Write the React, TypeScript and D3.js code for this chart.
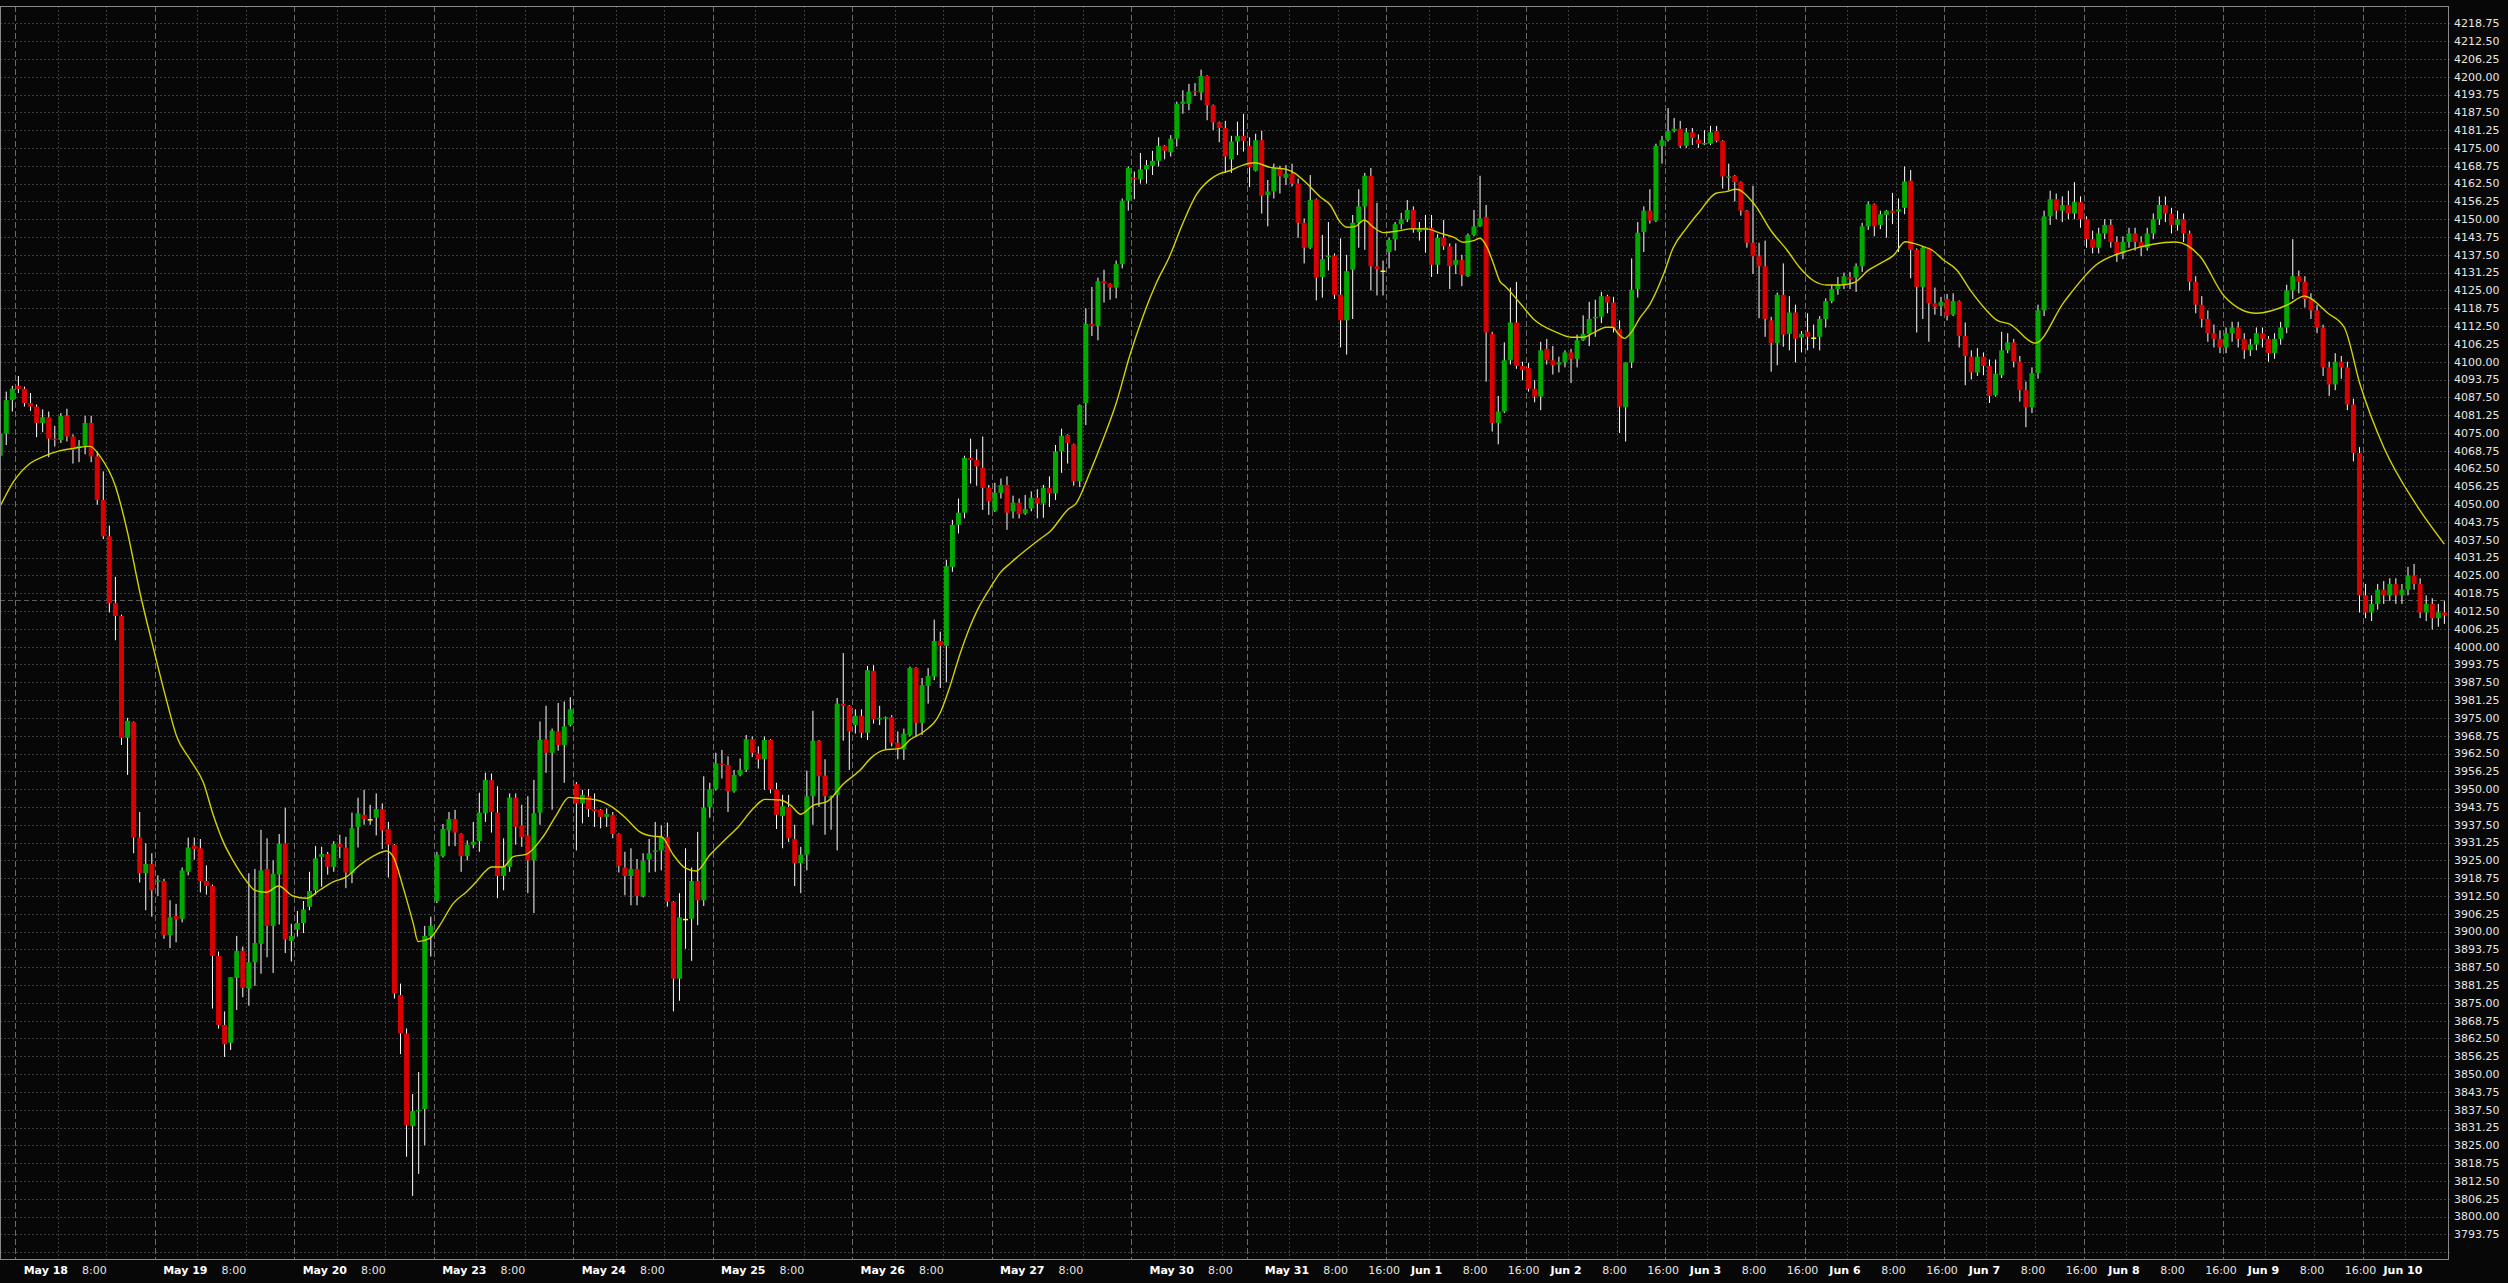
import React from "react"
import * as d3 from "d3"

// hourly bars: [open, high, low, close]
type Bar = [number, number, number, number]

const may17: Bar[] = [
  [4067, 4076, 4065, 4074.75], [4074.75, 4089.5, 4070.75, 4086.5], [4086.5, 4091.5, 4082.5, 4090.5],
]
const may18: Bar[] = [
  [4091.5, 4095, 4089, 4090.5], [4090.5, 4091.25, 4084.25, 4085.5], [4085.5, 4089, 4082.75, 4084.25],
  [4084.25, 4085, 4073.5, 4078.5], [4078.5, 4083.25, 4075.25, 4080.5], [4080.5, 4082.5, 4066.5, 4073],
  [4073, 4077.5, 4070.25, 4072.5], [4072.5, 4082, 4071.5, 4081], [4081, 4083.5, 4072, 4073.75],
  [4073.75, 4074.5, 4064.25, 4069], [4069.75, 4072.5, 4064.75, 4070.5], [4070.5, 4081, 4067.5, 4078.5],
  [4078.5, 4081, 4064.75, 4066.75], [4066.75, 4068.5, 4049.75, 4051.5], [4051.5, 4061.5, 4037.75, 4038.75],
  [4038.75, 4042.5, 4012, 4015.25], [4015.25, 4024.5, 4002.25, 4010.75], [4010.75, 4011.25, 3965.5, 3968],
  [3968, 3975, 3955, 3974], [3973.5, 3973.75, 3927.5, 3933], [3933, 3942, 3917.25, 3920.5],
  [3920.5, 3931, 3907.5, 3923.75], [3923.75, 3927.5, 3905.25, 3914.5],
]
const may19: Bar[] = [
  [3917.5, 3919.75, 3912.5, 3918], [3917.75, 3918.5, 3897.5, 3898.75], [3898.75, 3911, 3894.25, 3905],
  [3905.5, 3909.75, 3896.25, 3904.25], [3904.5, 3922.5, 3903.25, 3921.5], [3921, 3933, 3919.75, 3929.5],
  [3930.25, 3933, 3925.25, 3929], [3929.25, 3932.5, 3913.75, 3917.75], [3917.75, 3923.25, 3913, 3916],
  [3916, 3916.5, 3873, 3891.5], [3891.5, 3893, 3866, 3867.25], [3867.25, 3872, 3856, 3860.5],
  [3861, 3884, 3858.5, 3884], [3883.75, 3898.5, 3872.5, 3893.25], [3893.25, 3894.75, 3877, 3880.25],
  [3880, 3920.5, 3874, 3889.25], [3889.25, 3922, 3881, 3896], [3895.75, 3935.75, 3885.25, 3921.5],
  [3922, 3932.75, 3891, 3902], [3902, 3925, 3885.5, 3920.25], [3920, 3934.25, 3902.5, 3930.75],
  [3931, 3943.5, 3892.5, 3897.25], [3896.75, 3902.75, 3889.5, 3898.5],
]
const may20: Bar[] = [
  [3900.75, 3907.25, 3898.25, 3903], [3903, 3910.75, 3899.5, 3907.75], [3908.75, 3921, 3907.5, 3914.25],
  [3914.5, 3930, 3913, 3925.75], [3926.25, 3929.75, 3915.75, 3927.25], [3927.25, 3928, 3920, 3922.75],
  [3922.75, 3931.75, 3921, 3930.75], [3930.75, 3934, 3925.75, 3929.75], [3929.5, 3933.25, 3915.25, 3920.75],
  [3920.5, 3941.75, 3917, 3936.25], [3936.75, 3947, 3929.5, 3941.5], [3941, 3949.75, 3937.5, 3939.5],
  [3939.5, 3944.5, 3937.5, 3939.5], [3940, 3948.5, 3933.75, 3943], [3943, 3945, 3929, 3935.5],
  [3936, 3938.5, 3919, 3930.5], [3930.5, 3930.75, 3876.5, 3878.25], [3877.75, 3881.75, 3857, 3864.25],
  [3864.25, 3866, 3821, 3832], [3831.75, 3843, 3807.25, 3837], [3837, 3850.75, 3815, 3837.5],
  [3837.75, 3902, 3825, 3898.5], [3898.5, 3905.25, 3891.25, 3902],
]
const may23: Bar[] = [
  [3910.75, 3928, 3910, 3927], [3926.5, 3937.75, 3926, 3936], [3935.5, 3942, 3930, 3939.5],
  [3939.5, 3942.75, 3930, 3934.75], [3934.25, 3934.5, 3921, 3926.5], [3926.5, 3932, 3925, 3930.5],
  [3930.5, 3938.5, 3929.25, 3931.5], [3931.75, 3948.75, 3928, 3941.75], [3941.5, 3955.75, 3938.5, 3953.25],
  [3953.25, 3955.5, 3934.75, 3942], [3941.75, 3951, 3911.75, 3919.5], [3919.5, 3932.75, 3914.5, 3922.75],
  [3922.75, 3948.5, 3921, 3947], [3947, 3948.5, 3930.5, 3936.75], [3937.25, 3944.5, 3929.75, 3933.25],
  [3933.75, 3947.5, 3913.5, 3925], [3925, 3953.25, 3906.5, 3941.5], [3941.75, 3973.75, 3937.5, 3967.25],
  [3967.5, 3979.25, 3955.75, 3962.75], [3962.75, 3971.25, 3942.75, 3970.5], [3970.25, 3980.25, 3963.5, 3965.5],
  [3965.5, 3980.75, 3952.25, 3972], [3972.5, 3982.25, 3972, 3978],
]
const may24: Bar[] = [
  [3951.75, 3952.5, 3928.5, 3945], [3945, 3949.75, 3938, 3948], [3947.5, 3950, 3940.25, 3943],
  [3943, 3948.5, 3936.75, 3942.25], [3942.75, 3943, 3936.25, 3940.25], [3940.25, 3943.25, 3936.75, 3941.25],
  [3941, 3942, 3932.75, 3934.25], [3934.25, 3934.5, 3920.75, 3923], [3922.5, 3928, 3912.75, 3919.5],
  [3919.5, 3929.25, 3909.25, 3922], [3922, 3925.5, 3909.25, 3912.5], [3912.5, 3927.5, 3912, 3924.75],
  [3925.25, 3932.5, 3920.75, 3927.5], [3928, 3938.5, 3921, 3928.5], [3928.5, 3937.25, 3921.5, 3933.25],
  [3933.25, 3938.25, 3908.75, 3910.5], [3910.5, 3910.75, 3872, 3883.5], [3883.5, 3913.5, 3875.75, 3905],
  [3904.5, 3929.25, 3894, 3904.5], [3904.5, 3922.5, 3889.75, 3917.75], [3917.75, 3935, 3902.25, 3911],
  [3911, 3954.5, 3909, 3943.5], [3943.75, 3952.25, 3940, 3950],
]
const may25: Bar[] = [
  [3950, 3962.75, 3949.5, 3959], [3959, 3963.75, 3953.75, 3958.5], [3958.5, 3961.5, 3942, 3949.25],
  [3949.25, 3956.75, 3948.75, 3955], [3955, 3960.75, 3954.5, 3956.75], [3956.75, 3969, 3956, 3967.5],
  [3967.5, 3968.5, 3961.25, 3962.75], [3962.5, 3965, 3957.25, 3960.5], [3960.5, 3968.5, 3949.75, 3967.25],
  [3967.25, 3967.5, 3948.5, 3950], [3950, 3952.25, 3936, 3941], [3940.5, 3948, 3929.25, 3944],
  [3943.75, 3948, 3931.5, 3932.75], [3932.5, 3937.5, 3916, 3924], [3924, 3929.75, 3913.5, 3927],
  [3927, 3956.5, 3921.5, 3947.5], [3947.5, 3977.5, 3937.5, 3967], [3967, 3967.25, 3943.75, 3954.5],
  [3954.75, 3960.5, 3934, 3947.5], [3947, 3947.75, 3935.75, 3947.5], [3948, 3982, 3928.5, 3980],
  [3980, 3997.75, 3967, 3979.25], [3979.25, 3979.5, 3956.75, 3970.25],
]
const may26: Bar[] = [
  [3972.5, 3978, 3969.5, 3975.75], [3975.75, 3978, 3968, 3969.75], [3969.75, 3993.25, 3967.25, 3991.75],
  [3991.5, 3993.5, 3973, 3974.5], [3974.5, 3979.25, 3972.5, 3975], [3975, 3975.5, 3963.75, 3975.25],
  [3975.25, 3976, 3965, 3966.25], [3966.25, 3970.25, 3960.5, 3964.25], [3964, 3971.25, 3960.25, 3969.5],
  [3969, 3993, 3968.5, 3992.5], [3992.5, 3992.75, 3968.5, 3973.25], [3973.25, 3989, 3969, 3986.5],
  [3986.25, 3992.5, 3980, 3989.75], [3989.5, 4009.5, 3988.25, 4002], [4002, 4005.25, 3985.5, 4000.25],
  [4000.25, 4030.5, 3987.5, 4028.25], [4028, 4044.5, 4026.25, 4042.75], [4042.75, 4052, 4039.75, 4047],
  [4047, 4067, 4045, 4066.25], [4066.25, 4073, 4057.25, 4065.5], [4065.5, 4069.25, 4056.5, 4063.25],
  [4062.75, 4073.75, 4048, 4055.75], [4055.75, 4056.75, 4046.25, 4051],
]
const may27: Bar[] = [
  [4047.75, 4057.5, 4047.25, 4054], [4054, 4059, 4052, 4056.75], [4056.75, 4059.75, 4041, 4047],
  [4047.5, 4053, 4045, 4050.5], [4050.5, 4052, 4045, 4046.5], [4046.75, 4053.25, 4046.25, 4048.25],
  [4048.5, 4054.5, 4047.5, 4052.25], [4052.25, 4055.25, 4045, 4050.25], [4050.25, 4056.75, 4045.25, 4055.75],
  [4055.75, 4059.75, 4049, 4053.75], [4053.75, 4070.75, 4051.5, 4068.5], [4068.5, 4076.5, 4061, 4074],
  [4074.25, 4074.5, 4064.25, 4071.5], [4071, 4071.25, 4056.5, 4058], [4058, 4085, 4056, 4084.75],
  [4085.5, 4118.75, 4077.75, 4113.25], [4113.25, 4126.25, 4109, 4112.5], [4112.5, 4129.5, 4107.5, 4128.25],
  [4128.25, 4132.25, 4120.75, 4127.5], [4127.25, 4127.5, 4121.75, 4126], [4126, 4135.5, 4122.25, 4134.25],
  [4134.25, 4157.25, 4132.75, 4156.5], [4156.5, 4168.5, 4153, 4168],
]
const may30: Bar[] = [
  [4164.5, 4166.75, 4157, 4164], [4164, 4173.25, 4162.5, 4167.5], [4167.5, 4170.75, 4162.5, 4169],
  [4168.75, 4174, 4165.5, 4170.5], [4170.5, 4178.75, 4168.5, 4175.75], [4175.75, 4176, 4171, 4174],
  [4173.5, 4179.5, 4172, 4178.25], [4178.25, 4191.25, 4175.5, 4190.5], [4190.5, 4195.25, 4187, 4191.25],
  [4190.5, 4197.5, 4188.25, 4194.75], [4195, 4197.75, 4193.25, 4194.5], [4194.5, 4202.5, 4191.75, 4200.25],
  [4200.25, 4200.5, 4184.75, 4190], [4190, 4190.25, 4181.25, 4184], [4184, 4184.25, 4177, 4182],
  [4182, 4184.5, 4166.25, 4172], [4171, 4179.25, 4166.25, 4177.25], [4177.25, 4184.25, 4172.5, 4179.25],
  [4179.25, 4187, 4173.75, 4177.5],
]
const may31: Bar[] = [
  [4175.75, 4178.75, 4161.25, 4168.25], [4167, 4180, 4166.75, 4177.75], [4177.75, 4181, 4152, 4158.25],
  [4158.5, 4163.75, 4147.5, 4159.75], [4159.75, 4169.5, 4157.25, 4168], [4168, 4168.75, 4159, 4165],
  [4164.5, 4169, 4162, 4166], [4166, 4169.5, 4161.5, 4162.5], [4162.5, 4164.25, 4143.5, 4148.75],
  [4148.75, 4150.25, 4134.5, 4140], [4140, 4165.5, 4139.5, 4156.75], [4157, 4157.25, 4121.5, 4129.5],
  [4129.75, 4144.5, 4122.5, 4136], [4136.75, 4149, 4132, 4137.25], [4137.25, 4138, 4122, 4123.5],
  [4123.5, 4143.25, 4105, 4114.5], [4114.5, 4137.5, 4102.5, 4131.75], [4132.25, 4151.5, 4115, 4148.75],
  [4148.75, 4160.5, 4140, 4154.5], [4154.5, 4166.25, 4139.25, 4165.25], [4165.25, 4168, 4125, 4133.5],
  [4133.5, 4155.75, 4123.25, 4132.5], [4132, 4135.5, 4123.25, 4132],
]
const jun1: Bar[] = [
  [4138.5, 4143.5, 4132.75, 4142.75], [4143, 4149, 4139, 4148.25], [4148.25, 4152.25, 4146.5, 4150],
  [4150, 4156.75, 4149, 4153.25], [4153.25, 4154.5, 4145.25, 4146.5], [4145.5, 4149, 4142.5, 4146.75],
  [4146.25, 4151.5, 4138.25, 4147], [4147, 4151.5, 4129.75, 4134], [4134, 4144.75, 4130.75, 4143.5],
  [4143.5, 4149.75, 4139.25, 4140.5], [4140.5, 4141.5, 4125.5, 4133.5], [4134, 4141.5, 4130.75, 4135.75],
  [4135.75, 4137.5, 4126.5, 4130.5], [4130, 4145, 4129.75, 4144.5], [4144.5, 4153.25, 4144, 4147.5],
  [4147.5, 4165.25, 4147.25, 4150.25], [4150.75, 4155, 4093, 4110.25], [4109.75, 4110.5, 4075.5, 4078.5],
  [4078.5, 4088, 4071, 4082.5], [4082.5, 4106.75, 4082, 4100.5], [4100.5, 4126, 4099, 4113.75],
  [4113.75, 4128, 4097.5, 4098.5], [4098.5, 4100, 4093.5, 4097],
]
const jun2: Bar[] = [
  [4097.75, 4099.5, 4089.5, 4090.5], [4090.5, 4093.5, 4085.75, 4087.75], [4087.75, 4107, 4083, 4104],
  [4104.5, 4108, 4099, 4100.5], [4100.5, 4105.5, 4095.5, 4098.75], [4099, 4101.75, 4096.25, 4099.75],
  [4099.75, 4104, 4098, 4103.25], [4103.25, 4104.5, 4092.5, 4101], [4101, 4109.5, 4098, 4107.5],
  [4107.5, 4116.25, 4107.25, 4109.75], [4109.75, 4121, 4105.5, 4115], [4115.25, 4121.75, 4108.75, 4115.75],
  [4115.75, 4124.5, 4113.5, 4123], [4123, 4123.5, 4117, 4120.75], [4120.75, 4122.75, 4110.25, 4111.75],
  [4111.5, 4114.5, 4075, 4084.25], [4084, 4099.75, 4072, 4099.75], [4099.75, 4136.25, 4097.75, 4125.25],
  [4125.5, 4149, 4122.5, 4145.25], [4145.5, 4154.5, 4138.5, 4153], [4153, 4160.5, 4148.5, 4149.5],
  [4149.5, 4176.5, 4149, 4175.75], [4175.75, 4179.25, 4169.5, 4177.75],
]
const jun3: Bar[] = [
  [4177.75, 4189, 4177.25, 4181], [4181, 4185.5, 4180.5, 4181.75], [4181.75, 4184.5, 4175, 4175.75],
  [4175.75, 4182, 4175, 4180.5], [4180.5, 4182, 4176, 4178.5], [4178, 4179.75, 4175, 4176.5],
  [4176.25, 4181.25, 4176, 4176.75], [4176.5, 4182.75, 4176, 4180.5], [4181, 4182.75, 4177, 4177.5],
  [4177.5, 4177.75, 4160.75, 4165], [4164.5, 4169.5, 4160.25, 4165], [4165.25, 4165.5, 4156.25, 4163],
  [4163, 4163.25, 4151.25, 4153], [4153, 4153.25, 4140, 4141.75], [4141.75, 4161.75, 4130.75, 4137],
  [4137, 4141.75, 4115.25, 4133.5], [4133.5, 4142.5, 4108.75, 4115], [4114.5, 4115.75, 4096.5, 4106.5],
  [4106.5, 4124.25, 4098.75, 4123.5], [4123.5, 4134.5, 4105.25, 4109.5], [4109.75, 4123, 4104, 4117.25],
  [4117.25, 4120, 4099.75, 4108], [4108.5, 4110.75, 4103.25, 4109.75],
]
const jun6: Bar[] = [
  [4110.5, 4117, 4104, 4108.75], [4108.5, 4113, 4104.75, 4108.5], [4108.75, 4116, 4104, 4115],
  [4115, 4122.25, 4112, 4121.25], [4121.25, 4127, 4120.5, 4125.5], [4125.5, 4129.75, 4123.5, 4127.25],
  [4127.25, 4131.25, 4125.5, 4130], [4129.75, 4131.5, 4125.5, 4129], [4129.5, 4134.5, 4124.5, 4133.5],
  [4133.5, 4148.75, 4131.5, 4147.5], [4147.5, 4156.25, 4146.25, 4155.25], [4155.25, 4155.5, 4144, 4147.5],
  [4148, 4153, 4146.5, 4151.75], [4151.5, 4153.25, 4143.5, 4153], [4153, 4159.25, 4148.25, 4152.25],
  [4152.75, 4157.25, 4138.5, 4153.5], [4154, 4168.5, 4151.75, 4163.25], [4163.5, 4167.25, 4129.25, 4139.25],
  [4139.25, 4139.75, 4110.25, 4126.25], [4126.25, 4140.5, 4115, 4140], [4139.75, 4140, 4107, 4120.5],
  [4120.5, 4126, 4116.5, 4119.25], [4119.5, 4122.75, 4116, 4121],
]
const jun7: Bar[] = [
  [4122, 4123.75, 4114.5, 4116], [4116.5, 4124, 4116, 4121.25], [4121.25, 4121.5, 4105, 4109],
  [4109, 4113.75, 4091.75, 4102], [4101.75, 4104, 4093.75, 4096.25], [4096.25, 4104.75, 4095, 4101.75],
  [4101.75, 4103.25, 4095.25, 4098.5], [4098.5, 4100.75, 4085.5, 4088], [4088.25, 4100.75, 4087.75, 4095.75],
  [4095.25, 4110.5, 4094.25, 4104], [4104, 4110, 4103, 4106.75], [4106.75, 4108, 4098, 4100],
  [4100, 4102, 4086, 4090], [4090, 4093, 4077, 4084], [4084, 4098, 4082, 4096],
  [4096, 4120, 4094, 4118], [4118, 4153, 4116, 4151], [4151, 4160, 4148, 4157],
  [4157, 4159, 4150, 4153], [4153, 4158, 4149, 4155], [4155, 4160, 4150, 4152],
  [4152, 4163, 4150, 4156], [4156, 4158, 4147, 4150],
]
const jun8: Bar[] = [
  [4150, 4151, 4140, 4143], [4143, 4146, 4138, 4140], [4140, 4147, 4138, 4145],
  [4145, 4150, 4143, 4148], [4148, 4150, 4140, 4142], [4142, 4144, 4135, 4138],
  [4138, 4144, 4136, 4142], [4142, 4147, 4140, 4145], [4145, 4147, 4139, 4142],
  [4142, 4144, 4137, 4140], [4140, 4147, 4139, 4145], [4145, 4152, 4143, 4150],
  [4150, 4158, 4148, 4155], [4155, 4158, 4149, 4152], [4152, 4154, 4145, 4148],
  [4148, 4153, 4146, 4150], [4150, 4152, 4142, 4145], [4145, 4146, 4125, 4128],
  [4128, 4130, 4117, 4120], [4120, 4123, 4112, 4115], [4115, 4118, 4107, 4110],
  [4110, 4113, 4105, 4108], [4108, 4111, 4103, 4105],
]
const jun9: Bar[] = [
  [4105, 4112, 4103, 4110], [4110, 4114, 4107, 4112], [4112, 4114, 4105, 4108],
  [4108, 4110, 4101, 4104], [4104, 4108, 4102, 4106], [4106, 4112, 4104, 4110],
  [4110, 4112, 4105, 4108], [4108, 4109, 4100, 4103], [4103, 4110, 4101, 4108],
  [4108, 4114, 4106, 4112], [4112, 4127, 4110, 4125], [4125, 4143, 4122, 4130],
  [4130, 4132, 4124, 4128], [4128, 4130, 4119, 4122], [4122, 4124, 4115, 4118],
  [4118, 4120, 4110, 4112], [4112, 4113, 4095, 4098], [4098, 4100, 4088, 4092],
  [4092, 4103, 4090, 4100], [4100, 4102, 4094, 4098], [4098, 4100, 4083, 4085],
  [4085, 4087, 4065, 4068], [4068, 4070, 4012, 4018],
]
const jun10: Bar[] = [
  [4018, 4022, 4010, 4012], [4012, 4018, 4009, 4015], [4015, 4022, 4013, 4020],
  [4020, 4023, 4015, 4018], [4018, 4024, 4016, 4022], [4022, 4024, 4015, 4018],
  [4018, 4022, 4015, 4020], [4020, 4028, 4018, 4025], [4025, 4029, 4020, 4022],
  [4022, 4024, 4010, 4012], [4012, 4018, 4009, 4015], [4015, 4017, 4006, 4010],
  [4010, 4015, 4007, 4012], [4012, 4016, 4008, 4011],
]

// session labels and which sessions get a closing "16:00" tick
const sessionDates = ["May 17", "May 18", "May 19", "May 20", "May 23", "May 24", "May 25", "May 26", "May 27",
  "May 30", "May 31", "Jun 1", "Jun 2", "Jun 3", "Jun 6", "Jun 7", "Jun 8", "Jun 9", "Jun 10"]
const sessionBars = [may17, may18, may19, may20, may23, may24, may25, may26, may27,
  may30, may31, jun1, jun2, jun3, jun6, jun7, jun8, jun9, jun10]
const closeTickDays = ["May 31", "Jun 1", "Jun 2", "Jun 3", "Jun 6", "Jun 7", "Jun 8", "Jun 9"]

// moving average: [bar index, value]
const maPoints: [number, number][] = [
  [0, 4049.3], [2.2, 4057.9], [4.9, 4064.3], [7.1, 4066.7], [9.9, 4068.8], [12.1, 4069.6], [14.8, 4070.3],
  [16.5, 4066.7], [19, 4056.3], [20.9, 4041], [23.1, 4018.4], [25.3, 3999.1], [27.4, 3981.4], [29.1, 3968.5],
  [31.3, 3960.4], [33.5, 3952.3], [35.1, 3941.1], [36.8, 3931.4], [38.4, 3924.9], [40.6, 3917.7], [42, 3914.5],
  [43.9, 3913.8], [45.9, 3916], [48.3, 3912.5], [50.5, 3911.7], [52.7, 3914.6], [54.9, 3917.5], [57, 3919.1],
  [59.3, 3923.4], [61.5, 3926.5], [63.7, 3928.3], [64.8, 3926.3], [66.4, 3915.8], [68.1, 3902.9], [68.9, 3896.5],
  [70.8, 3897.6], [72.5, 3902.3], [74.7, 3909.9], [76.9, 3914], [78.5, 3917.5], [79.9, 3921], [81, 3922.7],
  [82.9, 3922.7], [84.6, 3926.3], [86.8, 3927.2], [89.5, 3933.3], [91.7, 3940.9], [93.8, 3947.1], [95.5, 3946.8],
  [98.3, 3946.2], [101, 3943.6], [103.2, 3939.7], [105.4, 3935.1], [107.6, 3933.5], [109, 3933.3], [111, 3926.9],
  [112.9, 3922.4], [114.8, 3921.3], [117, 3926.9], [119.5, 3932.2], [121.7, 3936.8], [124.2, 3943.3],
  [126.1, 3946.4], [128.6, 3946.2], [130.3, 3944.4], [132, 3941.2], [134.1, 3944.4], [136.3, 3945.6],
  [139.1, 3952], [141.8, 3956.7], [143.5, 3960.8], [145.7, 3963.7], [148.4, 3964.3], [150.1, 3967.5],
  [152.3, 3970.2], [155, 3976.8], [156.4, 3984.8], [158.3, 3997.7], [159.9, 4007], [161, 4012.3],
  [163.2, 4020.5], [164.9, 4026], [166.5, 4029.2], [171.4, 4037.7], [173.1, 4040.4], [176.1, 4048.2],
  [177.4, 4050.3], [179.6, 4060.8], [181.8, 4072.5], [184, 4085.4], [186.2, 4101.8], [188.4, 4115.8],
  [190.6, 4127.5], [192.8, 4136.9], [195, 4148.6], [197.2, 4158.5], [199.4, 4163.8], [201, 4165.9],
  [202.7, 4167], [204.9, 4169], [206.8, 4169.8], [209.4, 4168.2], [212.1, 4167.5], [213.5, 4166.1],
  [215.4, 4162.6], [217.6, 4157.9], [219.3, 4155], [220.9, 4149.1], [222, 4147.2], [223.4, 4147.4],
  [224.9, 4149.7], [226.4, 4147.2], [228.1, 4145.3], [230.8, 4146], [232.5, 4146.6], [235.2, 4146.6],
  [237.4, 4145.1], [239.6, 4143.7], [241.3, 4141.9], [242.9, 4142.5], [244, 4143.3], [245.1, 4140.4],
  [246.2, 4134.5], [247.3, 4128.1], [248.1, 4126.6], [250.6, 4120.5], [253, 4114.6], [256.6, 4110.3],
  [259, 4108.6], [261, 4108.6], [262.6, 4110], [264.8, 4112.1], [265.9, 4112.1], [266.7, 4110],
  [267.8, 4108.2], [268.9, 4110.2], [270.3, 4115.2], [272, 4120.1], [274.2, 4130.4], [275.8, 4139.8],
  [278, 4146.8], [280.2, 4152.7], [282.9, 4159.1], [284.6, 4159.7], [286.2, 4160.5], [289.1, 4155.6],
  [292.1, 4145.6], [294.6, 4139.2], [296.8, 4132.8], [299, 4128.4], [301.2, 4126.9], [303.4, 4126.9],
  [305.6, 4127.7], [308.1, 4132.2], [310, 4134.5], [312.2, 4137.4], [314.1, 4142.1], [315.5, 4141.5],
  [317.1, 4140.4], [318.5, 4139.2], [320.4, 4135.7], [322.6, 4132.2], [324.8, 4125.2], [327.6, 4117.8],
  [329.2, 4114.6], [331.4, 4113.1], [335.5, 4106.5], [340.3, 4121], [345.6, 4134], [350.9, 4139], [358.7, 4142],
  [362.7, 4137], [366.7, 4123], [372, 4117], [377.2, 4120], [379.9, 4123], [383.8, 4117], [386.5, 4112],
  [389.1, 4092], [393, 4070], [398.3, 4050], [403, 4036],
]

const priceLine = 4016.25
const yTickStep = 6.25
const yLabelMin = 3793.75
const yLabelMax = 4218.75

const W = 2508
const H = 1283
const plotRight = 2448
const plotTop = 6
const plotBottom = 1259
const barStep = 6.065

export default function App() {
  const bars = sessionBars.flat()
  const starts: number[] = []
  let acc = 0
  sessionBars.forEach((s) => {
    starts.push(acc)
    acc += s.length
  })

  const x = d3.scaleLinear().domain([0, 1]).range([0.2, 0.2 + barStep])
  const y = d3.scaleLinear().domain([yLabelMin, yLabelMax]).range([1234.4, 23.3])

  const gridPrices = d3.range(yLabelMin - yTickStep, yLabelMax + yTickStep / 2, yTickStep)
  const labelPrices = d3.range(yLabelMin, yLabelMax + yTickStep / 2, yTickStep)

  const maLine = d3
    .line<[number, number]>()
    .x((d) => x(d[0]))
    .y((d) => y(d[1]))
    .curve(d3.curveMonotoneX)

  // vertical grid: session open (major), midnight and 8:00 (minor)
  const majors: number[] = []
  const minors: number[] = []
  starts.forEach((s, k) => {
    if (k === 0) return
    majors.push(x(s - 0.5))
    minors.push(x(s + 6.5))
    if (sessionBars[k].length > 15) minors.push(x(s + 14.5))
  })

  const labels: { x: number; text: string; bold: boolean }[] = []
  starts.forEach((s, k) => {
    if (k === 0) return
    const date = sessionDates[k]
    const shift = k <= 8 ? -12 : -2
    labels.push({ x: x(s + 6.5) + shift, text: date, bold: true })
    if (sessionBars[k].length > 15) labels.push({ x: x(s + 14.5) + shift, text: "8:00", bold: false })
    if (closeTickDays.includes(date)) labels.push({ x: x(s + sessionBars[k].length - 0.5) + shift, text: "16:00", bold: false })
  })

  const bodyW = 5

  return (
    <div style={{ position: "absolute", left: 0, top: 0, width: W, height: H, background: "#070707" }}>
      <svg width={W} height={H} style={{ display: "block" }} fontFamily="DejaVu Sans, Verdana, sans-serif">
        <rect x={0} y={0} width={W} height={H} fill="#070707" />
        {/* horizontal grid */}
        {gridPrices.map((p) => (
          <line key={"h" + p} x1={0} x2={plotRight + 3} y1={Math.round(y(p)) + 0.5} y2={Math.round(y(p)) + 0.5}
            stroke="#3c3c3c" strokeDasharray="2,2" />
        ))}
        {minors.map((mx, i) => (
          <line key={"mn" + i} x1={Math.round(mx) + 0.5} x2={Math.round(mx) + 0.5} y1={plotTop} y2={plotBottom}
            stroke="#3c3c3c" strokeDasharray="2,2" />
        ))}
        {majors.map((mx, i) => (
          <line key={"mj" + i} x1={Math.round(mx) + 0.5} x2={Math.round(mx) + 0.5} y1={plotTop} y2={plotBottom}
            stroke="#6a6a6a" strokeDasharray="6,3" />
        ))}
        <line x1={0} x2={plotRight} y1={Math.round(y(priceLine)) + 0.5} y2={Math.round(y(priceLine)) + 0.5}
          stroke="#5a5a5a" strokeDasharray="5,3" />

        {/* candles */}
        {bars.map((b, i) => {
          const [o, h, l, c] = b
          const cx = x(i)
          const top = y(Math.max(o, c))
          const bot = y(Math.min(o, c))
          const color = c > o ? "#00a800" : c < o ? "#d80000" : "#ffff00"
          return (
            <g key={"b" + i}>
              <line x1={cx} x2={cx} y1={y(h)} y2={y(l)} stroke="#ffffff" strokeWidth={1} />
              <rect x={cx - bodyW / 2} y={top} width={bodyW} height={Math.max(1.5, bot - top)} fill={color} />
            </g>
          )
        })}

        <path d={maLine(maPoints) ?? ""} fill="none" stroke="#d2d200" strokeWidth={1.4} />

        {/* frame */}
        <rect x={0.5} y={plotTop + 0.5} width={plotRight} height={plotBottom - plotTop} fill="none" stroke="#8a8a8a" />

        {/* price axis */}
        {labelPrices.map((p) => (
          <text key={"t" + p} x={plotRight + 6} y={y(p)} dy="0.35em" fontSize={11} fill="#e6e6e6">
            {p.toFixed(2)}
          </text>
        ))}

        {/* time axis */}
        {labels.map((lb, i) => (
          <text key={"l" + i} x={lb.x} y={1274} textAnchor="middle" fontSize={11}
            fontWeight={lb.bold ? "bold" : "normal"} fill={lb.bold ? "#ffffff" : "#e6e6e6"}>
            {lb.text}
          </text>
        ))}
      </svg>
    </div>
  )
}
